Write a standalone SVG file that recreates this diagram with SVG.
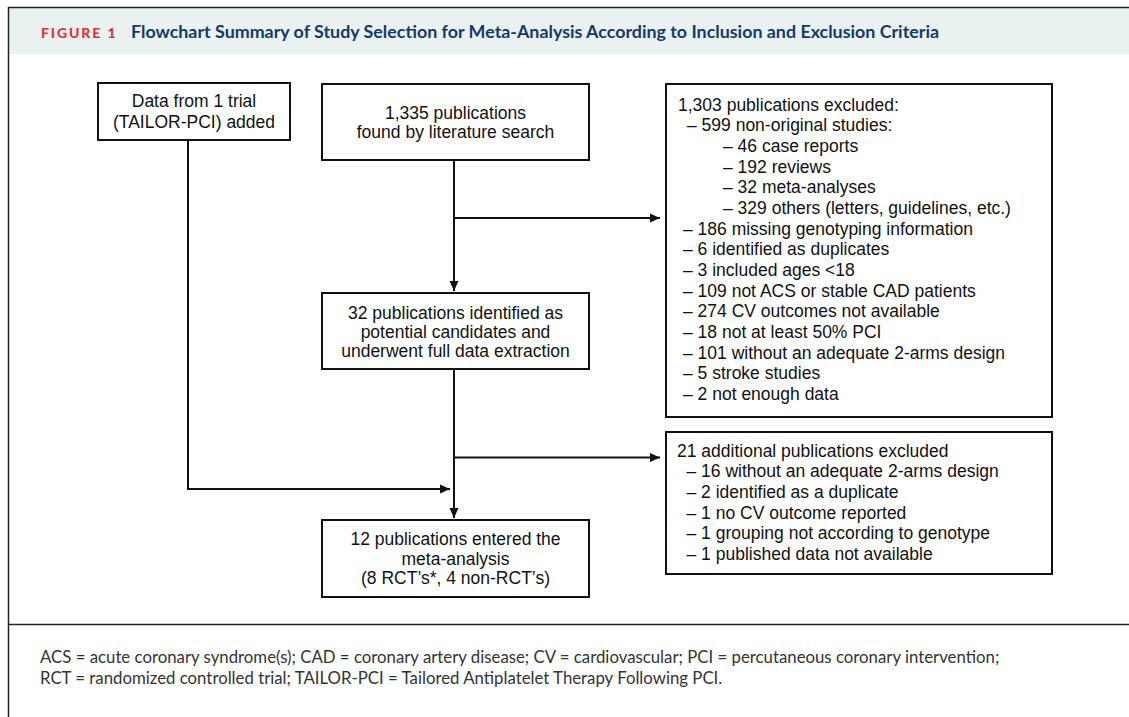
<svg xmlns="http://www.w3.org/2000/svg" width="1129" height="717" viewBox="0 0 1129 717">
<style>
.box{fill:#fff;stroke:#111;stroke-width:2}
.t{font-family:"Liberation Sans",Arial,sans-serif;font-size:17.5px;fill:#111}
.c{text-anchor:middle}
.ln{fill:none;stroke:#111;stroke-width:2}
.frame{fill:none;stroke:#222;stroke-width:1.5}
.fn{font-family:Lato,"Noto Sans",sans-serif;font-size:16.8px;fill:#333}
</style>
<defs>
<marker id="ah" markerUnits="userSpaceOnUse" markerWidth="10" markerHeight="10" refX="10" refY="5" orient="auto">
<path d="M0,0.5 L10,5 L0,9.5 z" fill="#111"/>
</marker>
</defs>
<rect x="0" y="0" width="1129" height="717" fill="#fff"/>
<g id="header">
<rect x="9" y="8" width="1120" height="46" fill="#e9f1f1"/>
<text x="41" y="38" font-family="Lato,sans-serif" font-weight="900" font-size="14px" letter-spacing="1.9" fill="#e2313b">FIGURE 1</text>
<text x="131" y="38" font-family="Lato,sans-serif" font-weight="700" font-size="16.5px" textLength="808" lengthAdjust="spacingAndGlyphs" fill="#153a6b">Flowchart Summary of Study Selection for Meta-Analysis According to Inclusion and Exclusion Criteria</text>
</g>
<g id="frame">
<line class="frame" x1="8" y1="7.5" x2="1129" y2="7.5"/>
<line class="frame" x1="8.5" y1="7" x2="8.5" y2="717"/>
<line class="frame" x1="8" y1="624.5" x2="1129" y2="624.5"/>
</g>
<g id="connectors">
<line class="ln" x1="454" y1="160" x2="454" y2="291" marker-end="url(#ah)"/>
<line class="ln" x1="454" y1="218" x2="660" y2="218" marker-end="url(#ah)"/>
<line class="ln" x1="454" y1="369" x2="454" y2="518" marker-end="url(#ah)"/>
<line class="ln" x1="454" y1="457.5" x2="660" y2="457.5" marker-end="url(#ah)"/>
<polyline class="ln" points="188,140 188,489 450,489" marker-end="url(#ah)"/>
</g>
<g id="nodeA">
<rect class="box" x="98" y="83" width="192" height="57"/>
<text class="t c" x="194" y="107">Data from 1 trial</text>
<text class="t c" x="194" y="127.5">(TAILOR-PCI) added</text>
</g>
<g id="nodeB">
<rect class="box" x="322" y="84" width="267" height="76"/>
<text class="t c" x="455.5" y="119">1,335 publications</text>
<text class="t c" x="455.5" y="138">found by literature search</text>
</g>
<g id="nodeC">
<rect class="box" x="322" y="293" width="267" height="76"/>
<text class="t c" x="455.5" y="319">32 publications identified as</text>
<text class="t c" x="455.5" y="338">potential candidates and</text>
<text class="t c" x="455.5" y="357">underwent full data extraction</text>
</g>
<g id="nodeD">
<rect class="box" x="322" y="520" width="267" height="77"/>
<text class="t c" x="455.5" y="545">12 publications entered the</text>
<text class="t c" x="455.5" y="564.5">meta-analysis</text>
<text class="t c" x="455.5" y="584">(8 RCT’s*, 4 non-RCT’s)</text>
</g>
<g id="excluded1">
<rect class="box" x="666" y="84" width="386" height="333"/>
<text class="t" x="678" y="110.7">1,303 publications excluded:</text>
<text class="t" x="687" y="131.4">– 599 non-original studies:</text>
<text class="t" x="723" y="152">– 46 case reports</text>
<text class="t" x="723" y="172.7">– 192 reviews</text>
<text class="t" x="723" y="193.3">– 32 meta-analyses</text>
<text class="t" x="723" y="214">– 329 others (letters, guidelines, etc.)</text>
<text class="t" x="683" y="234.7">– 186 missing genotyping information</text>
<text class="t" x="683" y="255.3">– 6 identified as duplicates</text>
<text class="t" x="683" y="276">– 3 included ages &lt;18</text>
<text class="t" x="683" y="296.6">– 109 not ACS or stable CAD patients</text>
<text class="t" x="683" y="317.3">– 274 CV outcomes not available</text>
<text class="t" x="683" y="338">– 18 not at least 50% PCI</text>
<text class="t" x="683" y="358.6">– 101 without an adequate 2-arms design</text>
<text class="t" x="683" y="379.3">– 5 stroke studies</text>
<text class="t" x="683" y="400">– 2 not enough data</text>
</g>
<g id="excluded2">
<rect class="box" x="666" y="432" width="386" height="142"/>
<text class="t" x="677" y="456.7">21 additional publications excluded</text>
<text class="t" x="686.5" y="477.3">– 16 without an adequate 2-arms design</text>
<text class="t" x="686.5" y="498">– 2 identified as a duplicate</text>
<text class="t" x="686.5" y="518.7">– 1 no CV outcome reported</text>
<text class="t" x="686.5" y="539.3">– 1 grouping not according to genotype</text>
<text class="t" x="686.5" y="560">– 1 published data not available</text>
</g>
<g id="footnote">
<text class="fn" x="40" y="663">ACS = acute coronary syndrome(s); CAD = coronary artery disease; CV = cardiovascular; PCI = percutaneous coronary intervention;</text>
<text class="fn" x="40" y="684">RCT = randomized controlled trial; TAILOR-PCI = Tailored Antiplatelet Therapy Following PCI.</text>
</g>
</svg>
